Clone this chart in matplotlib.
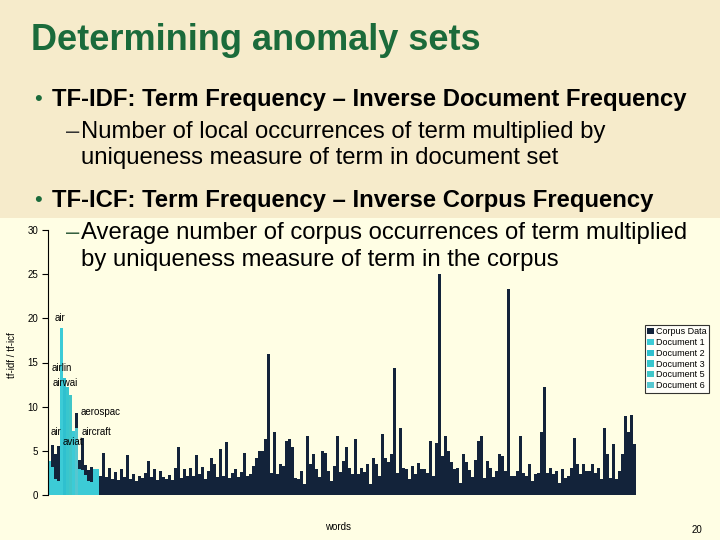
import numpy as np
import matplotlib
matplotlib.use("Agg")
from matplotlib import pyplot as plt
from matplotlib.patches import Rectangle

plt.rcParams['font.family'] = ['Liberation Sans', 'DejaVu Sans']

# tf-icf of every word over the corpus (one bar per word)
corpus = [
    3.0, 5.7, 4.6, 5.5, 6.0, 3.5, 3.0, 4.2, 3.0, 9.3,
    4.0, 6.5, 3.4, 2.8, 3.2, 2.4, 3.0, 2.2, 4.8, 2.0,
    3.1, 1.8, 2.6, 1.7, 3.0, 2.0, 4.5, 1.8, 2.4, 1.6,
    2.2, 1.9, 2.5, 3.8, 2.0, 2.9, 1.7, 2.7, 2.0, 1.8,
    2.3, 1.7, 3.1, 5.4, 1.9, 3.0, 2.1, 3.1, 2.2, 4.5,
    2.4, 3.2, 1.8, 2.7, 4.2, 3.5, 2.0, 5.2, 2.2, 6.0,
    1.9, 2.5, 2.9, 2.0, 2.6, 4.8, 2.1, 2.4, 3.3, 4.2,
    5.0, 5.0, 6.3, 16.0, 2.5, 7.1, 2.4, 3.5, 3.3, 6.1,
    6.3, 5.4, 1.9, 1.8, 2.7, 1.2, 6.7, 3.5, 4.6, 2.9,
    2.0, 5.0, 4.8, 2.7, 1.6, 3.3, 6.7, 2.6, 3.9, 5.4,
    3.1, 2.4, 6.3, 2.4, 3.1, 2.6, 3.5, 1.2, 4.2, 3.5,
    2.2, 6.9, 4.2, 3.7, 4.6, 14.4, 2.5, 7.6, 3.1, 2.9,
    1.8, 3.3, 2.4, 3.6, 2.9, 2.9, 2.5, 6.1, 2.2, 5.9,
    25.0, 4.4, 6.7, 5.0, 3.7, 2.9, 3.1, 1.4, 4.6, 3.7,
    2.8, 2.0, 4.0, 6.1, 6.7, 1.9, 3.8, 3.1, 2.0, 2.7,
    4.6, 4.4, 2.7, 23.3, 2.2, 2.2, 2.7, 6.7, 2.5, 2.2,
    3.5, 1.6, 2.4, 2.5, 7.1, 12.2, 2.5, 3.1, 2.4, 2.7,
    1.4, 2.9, 1.9, 2.2, 3.1, 6.5, 3.5, 2.4, 3.5, 2.7,
    2.7, 3.5, 2.5, 3.1, 1.8, 7.6, 4.6, 1.9, 5.8, 1.8,
    2.7, 4.6, 8.9, 7.1, 9.1, 5.8,
]

# tf-idf of the first words in each document
doc1 = [3.8, 3.2, 1.8, 1.6, 18.9, 7.3, 7.2, 7.0, 7.2, 3.0, 3.0, 2.8, 2.3, 1.6, 1.5, 2.9, 2.9]
doc2 = [0.0, 0.0, 0.0, 0.0, 0.0, 13.2, 0.0, 0.0, 0.0, 0.0, 0.0, 0.0, 0.0, 0.0, 0.0, 0.0, 0.0]
doc3 = [0.0, 0.0, 0.0, 0.0, 0.0, 0.0, 12.2, 0.0, 0.0, 0.0, 0.0, 0.0, 0.0, 0.0, 0.0, 0.0, 0.0]
doc5 = [0.0, 0.0, 0.0, 0.0, 0.0, 0.0, 0.0, 11.3, 0.0, 0.0, 0.0, 0.0, 0.0, 0.0, 0.0, 0.0, 0.0]
doc6 = [0.0, 0.0, 0.0, 0.0, 0.0, 0.0, 0.0, 0.0, 0.0, 7.6, 0.0, 0.0, 0.0, 0.0, 0.0, 0.0, 0.0]

series_names = ["Corpus Data", "Document 1", "Document 2", "Document 3", "Document 5", "Document 6"]
series_colors = ["#13233a", "#3ccbd6", "#2fc0cf", "#38c6cd", "#40c6c8", "#56c7d0"]
yticks = [0, 5, 10, 15, 20, 25, 30]

W, H = 720, 540
fig = plt.figure(figsize=(7.2, 5.4), dpi=100)
fig.patch.set_facecolor("#f6ebcb")
fig.patches.append(Rectangle((0, 0), 1, 1 - 218 / H, transform=fig.transFigure,
                             facecolor="#fffee4", edgecolor="none", zorder=-10))


def fy(py):
    return 1 - py / H


# slide text
green = "#1b6b3b"
fs = 17.2
fig.text(31 / W, fy(41), "Determining anomaly sets", fontsize=26, fontweight="bold",
         color=green, va="center")
fig.text(34 / W, fy(100), "\u2022", fontsize=16, color=green, va="center")
fig.text(52 / W, fy(100), "TF-IDF: Term Frequency \u2013 Inverse Document Frequency",
         fontsize=fs, fontweight="bold", va="center")
fig.text(66 / W, fy(132), "\u2013", fontsize=fs, color="#333333", va="center")
fig.text(81 / W, fy(132), "Number of local occurrences of term multiplied by",
         fontsize=fs, va="center")
fig.text(81 / W, fy(158), "uniqueness measure of term in document set",
         fontsize=fs, va="center")
fig.text(34 / W, fy(201), "\u2022", fontsize=16, color=green, va="center")
fig.text(52 / W, fy(201), "TF-ICF: Term Frequency \u2013 Inverse Corpus Frequency",
         fontsize=fs, fontweight="bold", va="center")
fig.text(66 / W, fy(233), "\u2013", fontsize=fs, color="#35603f", va="center", zorder=5)
fig.text(81 / W, fy(233), "Average number of corpus occurrences of term multiplied",
         fontsize=fs, va="center", zorder=5)
fig.text(81 / W, fy(260), "by uniqueness measure of term in the corpus",
         fontsize=fs, va="center", zorder=5)

# chart
ax = fig.add_axes([48 / W, (H - 495) / H, 588 / W, 265 / H])
ax.set_facecolor("none")
x = np.arange(len(corpus))
handles = []
handles.append(ax.bar(x, corpus, width=1.0, color=series_colors[0], linewidth=0))
for vals, col in zip([doc1, doc2, doc3, doc5, doc6], series_colors[1:]):
    handles.append(ax.bar(np.arange(len(vals)), vals, width=1.0, color=col, linewidth=0))

ax.set_xlim(-0.5, len(corpus) - 0.5)
ax.set_ylim(0, 30)
ax.set_yticks(yticks)
ax.tick_params(axis="y", labelsize=7, length=4, width=0.8, pad=3, colors="black")
ax.set_xticks([])
for s in ["top", "right", "bottom"]:
    ax.spines[s].set_visible(False)
ax.spines["left"].set_linewidth(0.8)

# word labels
ax.text(1.8, 20.0, "air", fontsize=7, va="center")
ax.text(0.8, 14.4, "airlin", fontsize=7, va="center")
ax.text(1.2, 12.7, "airwai", fontsize=7, va="center")
ax.text(10.5, 9.4, "aerospac", fontsize=7, va="center")
ax.text(0.5, 7.1, "air", fontsize=7, va="center")
ax.text(10.8, 7.1, "aircraft", fontsize=7, va="center")
ax.text(4.5, 6.0, "aviat", fontsize=7, va="center")

fig.text(12 / W, fy(355), "tf-idf / tf-icf", fontsize=7, rotation=90, ha="center", va="center")
fig.text(338 / W, fy(527), "words", fontsize=7, ha="center", va="center")
fig.text(697 / W, fy(530), "20", fontsize=7, ha="center", va="center")

leg = fig.legend(handles, series_names, loc="upper left", bbox_to_anchor=(645 / W, fy(325)),
                 fontsize=6.5, frameon=True, fancybox=False, handlelength=0.7,
                 handleheight=0.7, handletextpad=0.3, labelspacing=0.2, borderpad=0.25,
                 borderaxespad=0)
leg.get_frame().set_edgecolor("black")
leg.get_frame().set_linewidth(0.8)
leg.get_frame().set_facecolor("white")

fig.savefig("out.png", dpi=100, facecolor=fig.get_facecolor())
